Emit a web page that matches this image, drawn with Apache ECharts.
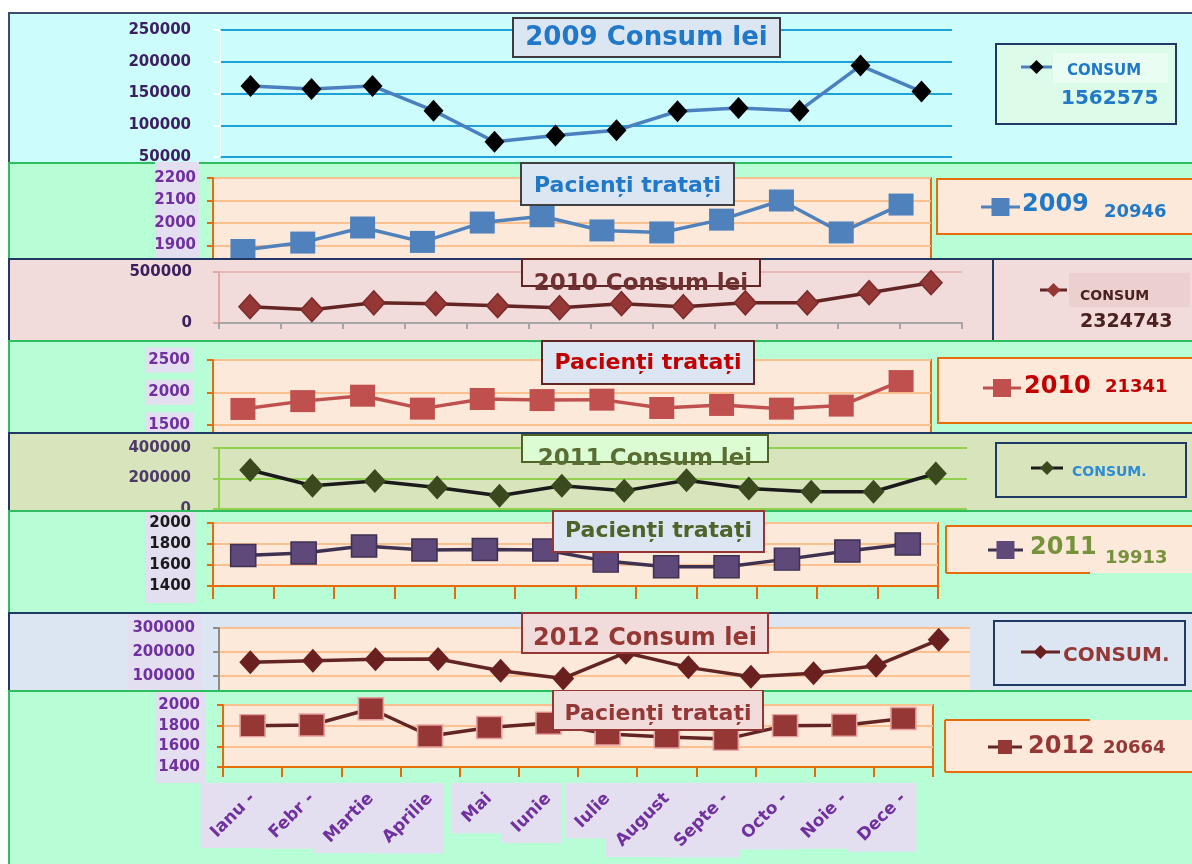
<!DOCTYPE html>
<html><head><meta charset="utf-8">
<script src="https://cdn.jsdelivr.net/npm/echarts@6/dist/echarts.min.js"></script>
<style>
body{margin:0;width:1192px;height:864px;background:#fff;overflow:hidden;position:relative;}
.panel{position:absolute;left:8px;width:1200px;overflow:hidden;}
.chart{position:absolute;left:-8px;width:1192px;height:864px;}
</style></head><body>
<script>
const months = ["Ianu -","Febr -","Martie","Aprilie","Mai","Iunie","Iulie","August","Septe -","Octo -","Noie -","Dece -"];
const consum2009 = [162000,157000,162000,123000,74000,84000,92000,122000,127000,123000,194000,153000];
const pacienti2009 = [1880,1913,1980,1916,2002,2030,1967,1958,2015,2100,1958,2082];
const consum2010 = [160000,130000,198000,189000,170000,150000,189000,160000,198000,198000,297000,395000];
const pacienti2010 = [1743,1864,1948,1748,1897,1880,1887,1758,1805,1748,1795,2174];
const consum2011 = [256000,152000,184000,141000,87000,152000,119000,189000,135000,113000,113000,233000];
const pacienti2011 = [1690,1714,1781,1743,1748,1743,1637,1584,1584,1656,1734,1800];
const consum2012 = [157000,164000,170000,171000,122000,90000,197000,136000,97000,111000,143000,251000];
const pacienti2012 = [1800,1806,1964,1700,1783,1825,1720,1690,1670,1800,1805,1870];

const ticksC2009 = [50000,100000,150000,200000,250000];
const ticksP2009 = [1800,1900,2000,2100,2200];
const ticksC2010 = [0,500000];
const ticksP2010 = [1000,1500,2000,2500];
const ticksC2011 = [0,200000,400000];
const ticksP2011 = [1400,1600,1800,2000];
const ticksC2012 = [0,100000,200000,300000];
const ticksP2012 = [1400,1600,1800,2000];

const totals = {c2009:"1562575", p2009:"20946", c2010:"2324743", p2010:"21341", p2011:"19913", p2012:"20664"};
const FONT = '"DejaVu Sans", sans-serif';

function makePanel(top, h, bg, border){
  const p = document.createElement('div');
  p.className = 'panel';
  p.style.top = top + 'px'; p.style.height = h + 'px';
  p.style.background = bg;
  p.style.boxShadow = 'inset 2px 2px 0 0 ' + border;
  const c = document.createElement('div');
  c.className = 'chart'; c.style.top = (-top) + 'px';
  p.appendChild(c); document.body.appendChild(p);
  return echarts.init(c, null, {renderer:'canvas', width:1192, height:864});
}
function txt(x, y, text, color, size, align, bold){
  return {type:'text', x:x, y:y, z:112, style:{text:text, fill:color,
    font:(bold===false?'':'bold ')+size+'px '+FONT, textAlign:align||'left', textVerticalAlign:'middle',
    align:align||'left', verticalAlign:'middle'}};
}
function rect(x,y,w,h,fill,stroke,z,lw){
  return {type:'rect', z:z||100, shape:{x:x,y:y,width:w,height:h}, style:{fill:fill||'none', stroke:stroke||'none', lineWidth:lw||2}};
}
function line(x1,y1,x2,y2,color,w,z){
  return {type:'line', z:z||105, shape:{x1:x1,y1:y1,x2:x2,y2:y2}, style:{stroke:color, lineWidth:w||2}};
}
function titleBox(x,y,w,h,fill,stroke,text,color,size,ty,strike){
  const els = [rect(x,y,w,h,fill,strike?'none':stroke,100), txt(x+w/2, ty, text, color, size, 'center')];
  if(strike) els.push(rect(x,y,w,h,'none',stroke,103));
  return els;
}
function legendMark(x1,x2,y,lineColor,sym,symColor,s){
  const cx=(x1+x2)/2;
  const els=[line(x1,y,x2,y,lineColor,3,110)];
  if(sym==='diamond') els.push({type:'polygon', z:111, shape:{points:[[cx,y-s/2],[cx+s/2,y],[cx,y+s/2],[cx-s/2,y]]}, style:{fill:symColor}});
  else els.push({type:'rect', z:111, shape:{x:cx-s/2,y:y-s/2,width:s,height:s}, style:{fill:symColor}});
  return els;
}

function build(o){
  const t = o.ticks;
  return {
    animation:false,
    textStyle:{fontFamily:FONT},
    grid:{left:o.l, right:1192-o.r, top:o.t, bottom:864-o.b, show:true,
      backgroundColor:o.fill||'transparent', borderColor:o.border||'transparent', borderWidth:o.border?2:0},
    xAxis:{type:'category', data:months, boundaryGap:true,
      axisLine:{show:!!o.xLine, lineStyle:{color:o.xLine||'#000', width:2}},
      axisTick:{show:!!o.xTick, length:o.xTick||5, lineStyle:{color:o.xLine||'#000', width:2}},
      axisLabel:o.xLabel||{show:false}, splitLine:{show:false}},
    yAxis:{type:'value', min:t[0], max:t[t.length-1], interval:t[1]-t[0],
      axisLine:{show:!!o.yLine, lineStyle:{color:o.yLine||'#000', width:o.yLineW||2}},
      axisTick:{show:!!o.yLine, length:6, lineStyle:{color:o.yLine||'#000', width:2}},
      axisLabel:Object.assign({color:o.labelColor, fontSize:15, fontWeight:'bold', fontFamily:FONT, margin:o.margin,
        formatter:function(v){return String(v);}}, o.labelExtra||{}),
      splitLine:{show:true, lineStyle:{color:o.gridColor, width:o.gridW||2}}},
    series:[{type:'line', data:o.data, symbol:o.symbol, symbolSize:o.symbolSize,
      lineStyle:{color:o.lineColor, width:3.5}, itemStyle:{color:o.symColor, borderColor:o.symBorder||o.symColor, borderWidth:o.symBorder?1.5:0, opacity:1},
      z:5, clip:false}],
    graphic:{elements:o.graphic}
  };
}

const DIAM = 'diamond';
const SQ = 'rect';

// Panel 1: 2009 Consum
const c1 = makePanel(12,150,'#ccfcfc','#3a4d6e');
c1.setOption(build({l:220,r:952,t:30,b:157, ticks:ticksC2009, data:consum2009,
  yLine:'#f4ffff', yLineW:1, labelColor:'#3b1f5e', margin:29, gridColor:'#1ea0d8', gridW:2,
  symbol:DIAM, symbolSize:[20,22], lineColor:'#4a7fc0', symColor:'#000',
  graphic:[].concat(
    titleBox(513,18,267,39,'#dce6f2','#3c3c3c','2009 Consum lei','#1f78c8',26,38),
    [rect(996,44,180,80,'#ddfbe9','#1f3864',100), rect(1053,53,115,30,'#e9fdf2','none',101)],
    legendMark(1021,1052,67,'#4a7fc0','diamond','#000',14),
    [txt(1067,71,'CONSUM','#1f78c8',15), txt(1061,99,totals.c2009,'#1f78c8',20)]
  )}));

// Panel 2: 2009 Pacienti
const c2 = makePanel(162,96,'#b7fdd6','#2ebd5f');
c2.setOption(build({l:213,r:931,t:178,b:268, ticks:ticksP2009, data:pacienti2009,
  fill:'#fde9d9', border:'#e46c0a', yLine:'#e46c0a', labelColor:'#7030a0', margin:17, gridColor:'#fac090', gridW:2,
  symbol:SQ, symbolSize:[25,22], lineColor:'#4f81bd', symColor:'#4f81bd',
  graphic:[].concat(
    [rect(155,162,44,96,'#e4dff0','none',-5)],
    titleBox(521,163,213,42,'#dce6f2','#404040','Pacienți tratați','#1f78c8',22,186),
    [rect(937,179,262,55,'#fde9d9','#e46c0a',100)],
    legendMark(981,1020,207,'#4f81bd','rect','#4f81bd',18),
    [txt(1022,205,'2009','#1f78c8',24), txt(1104,212,totals.p2009,'#1f78c8',18)]
  )}));

// Panel 3: 2010 Consum
const c3 = makePanel(258,82,'#f2dcdb','#1f3864');
c3.setOption(build({l:219,r:962,t:272,b:323, ticks:ticksC2010, data:consum2010,
  yLine:'#e3a9a8', labelColor:'#3b1f5e', margin:27, gridColor:'#e6b8b7', gridW:2,
  xLine:'#a6a6a6', xTick:6,
  symbol:DIAM, symbolSize:[22,24], lineColor:'#632523', symColor:'#953735', symBorder:'#7a2a2a',
  graphic:[].concat(
    titleBox(522,259,238,27,'#f2dcdb','#632523','2010 Consum lei','#6e3030',23,284,true),
    [line(993,258,993,340,'#1f3864',2,100), rect(1069,273,121,34,'#ecd0d0','none',100)],
    legendMark(1040,1067,290,'#632523','diamond','#953735',14),
    [txt(1080,296,'CONSUM','#4a2020',14), txt(1080,322,totals.c2010,'#4a2020',19)]
  )}));

// Panel 4: 2010 Pacienti
const c4 = makePanel(340,92,'#b7fdd6','#2ebd5f');
c4.setOption(build({l:213,r:931,t:360,b:457, ticks:ticksP2010, data:pacienti2010,
  fill:'#fde9d9', border:'#e46c0a', yLine:'#e46c0a', labelColor:'#7030a0', margin:20, gridColor:'#fac090', gridW:2,
  labelExtra:{backgroundColor:'#e4dff0', padding:[5,3,5,3]},
  symbol:SQ, symbolSize:[25,22], lineColor:'#c0504d', symColor:'#c0504d',
  graphic:[].concat(
    titleBox(542,341,212,43,'#dce6f2','#632523','Pacienți tratați','#c00000',22,363),
    [rect(938,358,262,65,'#fde9d9','#e46c0a',100)],
    legendMark(983,1021,388,'#c0504d','rect','#c0504d',18),
    [txt(1024,387,'2010','#c00000',24), txt(1105,387,totals.p2010,'#c00000',18)]
  )}));

// Panel 5: 2011 Consum
const c5 = makePanel(432,78,'#d8e4bc','#1f3864');
c5.setOption(build({l:219,r:967,t:448,b:509, ticks:ticksC2011, data:consum2011,
  yLine:'#92d050', labelColor:'#4d3a66', margin:28, gridColor:'#92d050', gridW:2,
  symbol:DIAM, symbolSize:[22,24], lineColor:'#1a1a1a', symColor:'#3b4a1e',
  graphic:[].concat(
    titleBox(522,435,246,27,'#dcfcd4','#4f6228','2011 Consum lei','#5a6e33',23,459,true),
    [rect(996,443,190,54,'none','#1f3864',100)],
    legendMark(1031,1063,468,'#1a1a1a','diamond','#3b4a1e',14),
    [txt(1072,472,'CONSUM.','#2e8bd6',14)]
  )}));

// Panel 6: 2011 Pacienti
const c6 = makePanel(510,102,'#b7fdd6','#2ebd5f');
c6.setOption(build({l:213,r:938,t:523,b:586, ticks:ticksP2011, data:pacienti2011,
  fill:'#fde9d9', border:'#e46c0a', yLine:'#e46c0a', labelColor:'#1a1a1a', margin:22, gridColor:'#fac090', gridW:2,
  xLine:'#e46c0a', xTick:13,
  symbol:SQ, symbolSize:[25,22], lineColor:'#3f3151', symColor:'#5f497a', symBorder:'#3f3151',
  graphic:[].concat(
    [rect(145,512,51,91,'#e4dff0','none',-5)],
    titleBox(553,511,211,41,'#dce6f2','#943634','Pacienți tratați','#4f6228',22,531),
    [rect(946,526,260,47,'#fde9d9','none',100), line(946,526,1192,526,'#e46c0a',2,101),
     line(946,526,946,573,'#e46c0a',2,101), line(946,573,1090,573,'#e46c0a',2,101)],
    legendMark(988,1023,550,'#3f3151','rect','#5f497a',18),
    [txt(1030,548,'2011','#76923c',24), txt(1105,558,totals.p2011,'#76923c',18)]
  )}));

// Panel 7: 2012 Consum
const c7 = makePanel(612,78,'#dce6f2','#1f3864');
c7.setOption(build({l:219,r:970,t:628,b:700, ticks:ticksC2012, data:consum2012,
  fill:'#fde9d9', yLine:'#8c8c8c', labelColor:'#7030a0', margin:24, gridColor:'#fac090', gridW:2,
  symbol:DIAM, symbolSize:[22,24], lineColor:'#632523', symColor:'#6b2020',
  graphic:[].concat(
    [rect(128,614,74,76,'#e4dff0','none',-5)],
    titleBox(522,613,246,40,'#f2dcdb','#943634','2012 Consum lei','#953735',24,639),
    [rect(994,621,191,64,'none','#1f3864',100)],
    legendMark(1021,1060,652,'#632523','diamond','#6b2020',14),
    [txt(1063,656,'CONSUM.','#953735',20)]
  )}));

// Panel 8: 2012 Pacienti
const LABEL_MARGIN = 29;
const c8 = makePanel(690,174,'#b7fdd6','#2ebd5f');
const opt8 = build({l:223,r:933,t:705,b:767, ticks:ticksP2012, data:pacienti2012,
  fill:'#fde9d9', border:'#e46c0a', yLine:'#e46c0a', labelColor:'#7030a0', margin:23, gridColor:'#fac090', gridW:2,
  xLine:'#e46c0a', xTick:10,
  xLabel:{show:true, interval:0, rotate:45, color:'#7030a0', fontSize:17, fontWeight:'bold', fontFamily:FONT, margin:LABEL_MARGIN},
  symbol:SQ, symbolSize:[25,22], lineColor:'#632523', symColor:'#953735', symBorder:'#e8a0a0',
  graphic:[].concat(
    [rect(155,692,50,91,'#e4dff0','none',-5)],
    titleBox(553,690,210,40,'#f2dcdb','#943634','Pacienți tratați','#953735',22,714),
    [rect(945,720,260,52,'#fde9d9','none',100), line(945,720,1090,720,'#e46c0a',2,101),
     line(945,720,945,772,'#e46c0a',2,101), line(945,772,1192,772,'#e46c0a',2,101)],
    legendMark(988,1022,747,'#632523','rect','#953735',14),
    [txt(1028,747,'2012','#953735',24), txt(1103,748,totals.p2012,'#953735',18)]
  )});
c8.setOption(opt8);

// lavender boxes behind rotated month labels, placed from the axis scale
(function(){
  const cv = document.createElement('canvas').getContext('2d');
  cv.font = 'bold 17px ' + FONT;
  const boxes = months.map(function(m){
    const cx = c8.convertToPixel({xAxisIndex:0}, m);
    const w = cv.measureText(m).width;
    const d = w / Math.SQRT2, hh = 20 / (2*Math.SQRT2);
    const ay = 767 + LABEL_MARGIN;
    return rect(cx - d - hh - 6, ay - hh - 6, d + 2*hh + 12, d + 2*hh + 12, '#e4dff0', 'none', -5);
  });
  c8.setOption({graphic:{elements:opt8.graphic.elements.concat(boxes)}});
})();
</script>
</body></html>
